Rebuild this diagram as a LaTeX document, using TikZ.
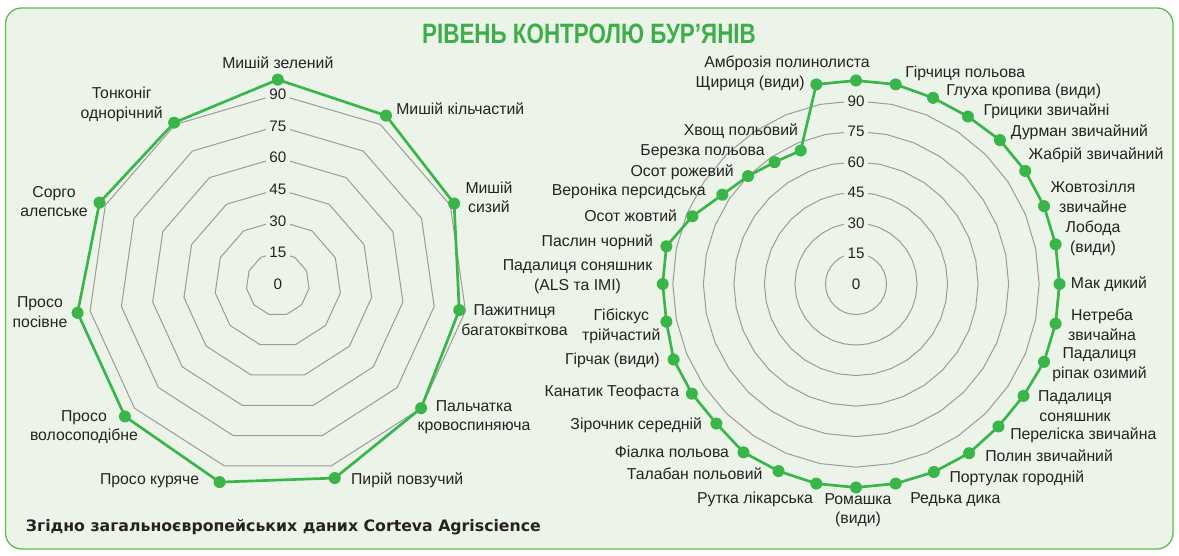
\documentclass[tikz,border=0pt]{standalone}
\usepackage{fontspec}
\setmainfont{Liberation Sans}
\newfontfamily\titlefont[FakeStretch=0.8]{Liberation Sans}
\newfontfamily\footfont{DejaVu Sans}
\definecolor{bgc}{RGB}{236,243,232}
\definecolor{framec}{RGB}{98,187,80}
\definecolor{datac}{RGB}{57,181,74}
\definecolor{gridc}{RGB}{155,155,155}
\definecolor{txtc}{RGB}{38,34,35}
\definecolor{titlec}{RGB}{61,174,73}
\begin{document}
\begin{tikzpicture}[x=0.75pt,y=-0.75pt,
  lbl/.style={font=\fontsize{11.85}{14.6}\selectfont, text=txtc, inner sep=0pt, align=center},
  ringlbl/.style={font=\fontsize{11.4}{13}\selectfont, text=txtc, fill=bgc, inner xsep=2.5pt, inner ysep=1.2pt},
  gridline/.style={draw=gridc, line width=0.75pt},
  dataline/.style={draw=datac, line width=2pt, line join=round},
  dot/.style={circle, fill=datac, inner sep=0pt, minimum size=9pt}]
\useasboundingbox (0,0) rectangle (1179,556);
\draw[draw=framec, fill=bgc, line width=1pt, rounded corners=12pt] (5.5,8) rectangle (1173,549);

% title
\node[font=\titlefont\bfseries\fontsize{21}{24}\selectfont, text=titlec, anchor=base, inner sep=0pt] (title) at (589,43.3) {РІВЕНЬ КОНТРОЛЮ БУР’ЯНІВ};

% ---------- left chart ----------
\def\LCx{277.8}\def\LCy{284}\def\LS{2.107}
\foreach \v in {15,30,...,90} {
  \draw[gridline] ({\LCx},{\LCy-\LS*\v}) \foreach \k in {1,...,10} { -- ({\LCx+\LS*\v*sin(\k*360/11)},{\LCy-\LS*\v*cos(\k*360/11)}) } -- cycle;
}
\foreach \v in {15,30,...,90} \node[ringlbl] (LR\v) at ({\LCx},{\LCy-\LS*\v}) {\v};
\node[ringlbl] (LR0) at (\LCx,\LCy) {0};
\foreach \val [count=\k from 0] in {97,95,92,87,90,96,98,96,96,93,91} {
  \coordinate (L\k) at ({\LCx+\LS*\val*sin(\k*360/11)},{\LCy-\LS*\val*cos(\k*360/11)});
}
\draw[dataline] (L0) -- (L1) -- (L2) -- (L3) -- (L4) -- (L5) -- (L6) -- (L7) -- (L8) -- (L9) -- (L10) -- cycle;
\foreach \k in {0,...,10} \node[dot] (LD\k) at (L\k) {};

\node[lbl] (la0) at (277.8,63) {Мишій зелений};
\node[lbl, anchor=west] (la1) at (396,108.3) {Мишій кільчастий};
\node[lbl] (la2) at (489,197) {Мишій\\сизий};
\node[lbl] (la3) at (514.5,320) {Пажитниця\\багатоквіткова};
\node[lbl] (la4) at (474,417) {Пальчатка\\кровоспиняюча};
\node[lbl, anchor=west] (la5) at (350.8,480.7) {Пирій повзучий};
\node[lbl, anchor=east] (la6) at (199.5,480.7) {Просо куряче};
\node[lbl] (la7) at (84,427) {Просо\\волосоподібне};
\node[lbl] (la8) at (40,312) {Просо\\посівне};
\node[lbl] (la9) at (54,201.7) {Сорго\\алепське};
\node[lbl] (la10) at (121.7,104.5) {Тонконіг\\однорічний};

% ---------- right chart ----------
\def\RCx{856}\def\RCy{284}\def\RS{2.035}
\foreach \v in {15,30,...,90} {
  \draw[gridline] ({\RCx},{\RCy-\RS*\v}) \foreach \k in {1,...,31} { -- ({\RCx+\RS*\v*sin(\k*11.25)},{\RCy-\RS*\v*cos(\k*11.25)}) } -- cycle;
}
\foreach \v in {15,30,...,90} \node[ringlbl] (RR\v) at ({\RCx},{\RCy-\RS*\v}) {\v};
\node[ringlbl] (RR0) at (\RCx,\RCy) {0};
\foreach \val [count=\k from 0] in {100,100,99,99,100,100,100,100,100,100,100,99,99,100,100,100,100,100,99.5,99.5,97,97,97,95,95,95,87,79,75,72,71,100} {
  \coordinate (R\k) at ({\RCx+\RS*\val*sin(\k*11.25)},{\RCy-\RS*\val*cos(\k*11.25)});
}
\draw[dataline] (R0) \foreach \k in {1,...,31} { -- (R\k) } -- cycle;
\foreach \k in {0,...,31} \node[dot] (RD\k) at (R\k) {};

\node[lbl, anchor=east] (ra0) at (870,63.3) {Амброзія полинолиста};
\node[lbl, anchor=west] (ra1) at (905,73.3) {Гірчиця польова};
\node[lbl, anchor=west] (ra2) at (946,91.7) {Глуха кропива (види)};
\node[lbl, anchor=west] (ra3) at (983.3,111.7) {Грицики звичайні};
\node[lbl, anchor=west] (ra4) at (1010.7,132.7) {Дурман звичайний};
\node[lbl, anchor=west] (ra5) at (1028.3,155) {Жабрій звичайний};
\node[lbl] (ra6) at (1093,196.7) {Жовтозілля\\звичайне};
\node[lbl] (ra7) at (1093,238.3) {Лобода\\(види)};
\node[lbl, anchor=west] (ra8) at (1070.7,284) {Мак дикий};
\node[lbl] (ra9) at (1102,325) {Нетреба\\звичайна};
\node[lbl] (ra10) at (1099.5,364.7) {Падалиця\\ріпак озимий};
\node[lbl] (ra11) at (1075,406.2) {Падалиця\\соняшник};
\node[lbl, anchor=west] (ra12) at (1010,435) {Переліска звичайна};
\node[lbl, anchor=west] (ra13) at (985,455.7) {Полин звичайний};
\node[lbl, anchor=west] (ra14) at (949.3,478.3) {Портулак городній};
\node[lbl, anchor=west] (ra15) at (910,500) {Редька дика};
\node[lbl] (ra16) at (858,510) {Ромашка\\(види)};
\node[lbl, anchor=east] (ra17) at (813.3,499.3) {Рутка лікарська};
\node[lbl, anchor=east] (ra18) at (762.7,474) {Талабан польовий};
\node[lbl, anchor=east] (ra19) at (729.3,451.7) {Фіалка польова};
\node[lbl, anchor=east] (ra20) at (702.3,425) {Зірочник середній};
\node[lbl, anchor=east] (ra21) at (679.3,392.7) {Канатик Теофаста};
\node[lbl, anchor=east] (ra22) at (660,360) {Гірчак (види)};
\node[lbl] (ra23) at (621.3,326.2) {Гібіскус\\трійчастий};
\node[lbl] (ra24) at (577.5,276.7) {Падалиця соняшник\\(ALS та IMI)};
\node[lbl, anchor=east] (ra25) at (653.3,242.3) {Паслин чорний};
\node[lbl, anchor=east] (ra26) at (677.3,216) {Осот жовтий};
\node[lbl, anchor=east] (ra27) at (706,191.7) {Вероніка персидська};
\node[lbl, anchor=east] (ra28) at (734,172.7) {Осот рожевий};
\node[lbl, anchor=east] (ra29) at (765,151.7) {Березка польова};
\node[lbl, anchor=east] (ra30) at (798.3,131.7) {Хвощ польовий};
\node[lbl, anchor=east] (ra31) at (805,83.3) {Щириця (види)};

% footer
\node[font=\footfont\bfseries\fontsize{11.8}{14}\selectfont, text=txtc, anchor=west, inner sep=0pt] (footer) at (25.6,527.3) {Згідно загальноєвропейських даних Corteva Agriscience};
\end{tikzpicture}
\end{document}
